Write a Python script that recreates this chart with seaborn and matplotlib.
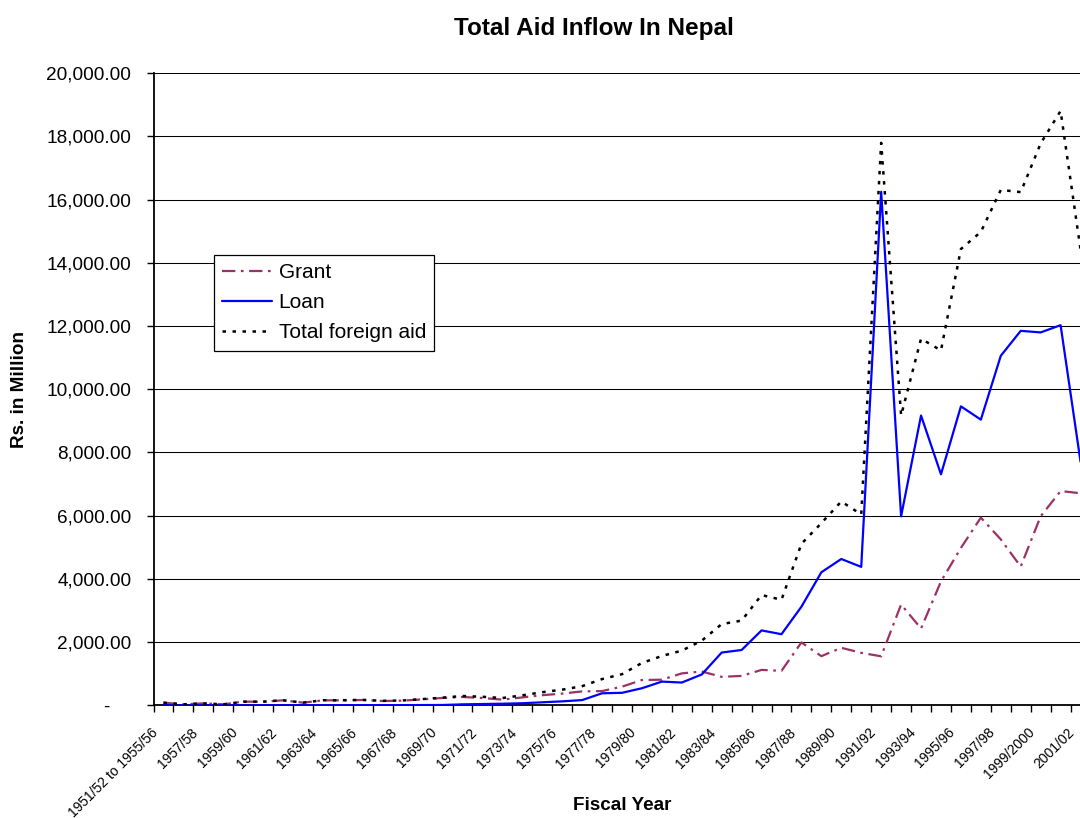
import matplotlib
matplotlib.use("Agg")
import matplotlib.pyplot as plt
from matplotlib.ticker import FixedLocator, FuncFormatter
from matplotlib.transforms import ScaledTranslation
import pandas as pd
import seaborn as sns

# Fiscal years (first entry groups the first five years)
fiscal_years = [
    "1951/52 to 1955/56", "1956/57", "1957/58", "1958/59", "1959/60", "1960/61",
    "1961/62", "1962/63", "1963/64", "1964/65", "1965/66", "1966/67", "1967/68",
    "1968/69", "1969/70", "1970/71", "1971/72", "1972/73", "1973/74", "1974/75",
    "1975/76", "1976/77", "1977/78", "1978/79", "1979/80", "1980/81", "1981/82",
    "1982/83", "1983/84", "1984/85", "1985/86", "1986/87", "1987/88", "1988/89",
    "1989/90", "1990/91", "1991/92", "1992/93", "1993/94", "1994/95", "1995/96",
    "1996/97", "1997/98", "1998/99", "1999/2000", "2000/01", "2001/02",
]

# Rs. in million
grant = [83, 30, 62, 30, 115, 115, 157, 83, 157, 157, 168, 136, 147, 189, 232, 264,
         230, 180, 250, 320, 370, 440, 450, 590, 800, 810, 1010, 1070, 900, 930,
         1120, 1090, 1990, 1555, 1820, 1660, 1550, 3190, 2430, 3920, 4980, 5940,
         5250, 4390, 5980, 6780, 6710]
loan = [0, 0, 0, 0, 0, 0, 2, 2, 3, 3, 4, 5, 6, 8, 10, 30, 40, 50, 65, 95, 125, 165,
        380, 395, 540, 750, 720, 975, 1670, 1750, 2370, 2250, 3120, 4210, 4630, 4380,
        16250, 5980, 9170, 7310, 9460, 9040, 11060, 11850, 11800, 12030, 7710]
total_aid = [83, 30, 62, 30, 115, 115, 159, 85, 160, 160, 172, 141, 153, 197, 242, 294,
             270, 230, 315, 415, 495, 605, 830, 985, 1340, 1560, 1730, 2045, 2570, 2680,
             3490, 3340, 5110, 5765, 6450, 6040, 17800, 9170, 11600, 11230, 14440,
             14980, 16310, 16240, 17780, 18810, 14420]

df = pd.DataFrame({
    "pos": range(len(fiscal_years)),
    "year": fiscal_years,
    "Grant": grant,
    "Loan": loan,
    "Total foreign aid": total_aid,
})

sns.set_theme(style="white")
plt.rcParams["font.family"] = ["Liberation Sans", "DejaVu Sans"]
plt.rcParams["text.color"] = "black"
plt.rcParams["axes.labelcolor"] = "black"
plt.rcParams["xtick.color"] = "black"
plt.rcParams["ytick.color"] = "black"

W, H = 1080, 818
fig = plt.figure(figsize=(W / 100, H / 100), dpi=100)
ax = fig.add_axes([153.5 / W, (H - 705.3) / H, 937 / W, 632 / H])

# Horizontal grid every 2,000
for v in range(2000, 20001, 2000):
    ax.axhline(v, color="black", linewidth=0.75, zorder=1)

sns.lineplot(data=df, x="pos", y="Grant", ax=ax, color="#993366", linewidth=1.6,
             linestyle=(0, (6, 2.5, 1.2, 2.5)), label="Grant", zorder=3)
sns.lineplot(data=df, x="pos", y="Loan", ax=ax, color="#0000FF", linewidth=1.6,
             linestyle="-", label="Loan", zorder=4)
sns.lineplot(data=df, x="pos", y="Total foreign aid", ax=ax, color="black",
             linewidth=1.8, linestyle=(0, (1.4, 2.6)), label="Total foreign aid",
             zorder=5)

ax.set_xlim(-0.5, len(fiscal_years) - 0.5)
ax.set_ylim(0, 20000)

# Y axis: accounting-style numbers, dash for zero
ax.yaxis.set_major_locator(FixedLocator(range(0, 20001, 2000)))
ax.yaxis.set_major_formatter(
    FuncFormatter(lambda v, p: "-    " if v == 0 else f"{v:,.2f}"))
ax.tick_params(axis="y", which="major", direction="out", length=5, width=1,
               color="black", pad=11, labelsize=13.7, left=True, labelcolor="black")

# X axis: ticks on category boundaries, labels on every other category
ax.xaxis.set_major_locator(FixedLocator(df["pos"][::2]))
ax.set_xticklabels(df["year"][::2], rotation=45, ha="right",
                   rotation_mode="anchor", va="center")
ax.xaxis.set_minor_locator(FixedLocator([i - 0.5 for i in range(len(fiscal_years) + 1)]))
ax.tick_params(axis="x", which="major", length=0, pad=18, labelsize=10,
               labelcolor="black")
ax.tick_params(axis="x", which="minor", direction="out", length=5, width=1,
               color="black", bottom=True)
shift = ScaledTranslation(-8 / 100, 0, fig.dpi_scale_trans)
for lbl in ax.get_xticklabels():
    lbl.set_transform(lbl.get_transform() + shift)

ax.set_xlabel("")
ax.set_ylabel("")
for side in ("top", "right"):
    ax.spines[side].set_visible(False)
for side in ("left", "bottom"):
    ax.spines[side].set_color("black")
    ax.spines[side].set_linewidth(1.3)

leg = ax.legend(loc="upper left", bbox_to_anchor=(214 / W, 1 - 255 / H),
                bbox_transform=fig.transFigure, borderaxespad=0, fontsize=15,
                frameon=True, fancybox=False, shadow=False, edgecolor="black",
                handlelength=2.4, handletextpad=0.3, labelspacing=0.53,
                borderpad=0.4)
leg.get_frame().set_linewidth(0.9)
leg.get_frame().set_facecolor("white")
leg.get_frame().set_alpha(1)
for t in leg.get_texts():
    t.set_color("black")

fig.text(593.5 / W, 1 - 28 / H, "Total Aid Inflow In Nepal", ha="center",
         va="center", fontsize=17.5, fontweight="bold")
fig.text(20 / W, 1 - 389 / H, "Rs. in Million", ha="center", va="center",
         rotation=90, fontsize=13.6, fontweight="bold")
fig.text(621.7 / W, 1 - 806 / H, "Fiscal Year", ha="center", va="center",
         fontsize=13.6, fontweight="bold")

fig.savefig("out.png", dpi=100, facecolor="white")
